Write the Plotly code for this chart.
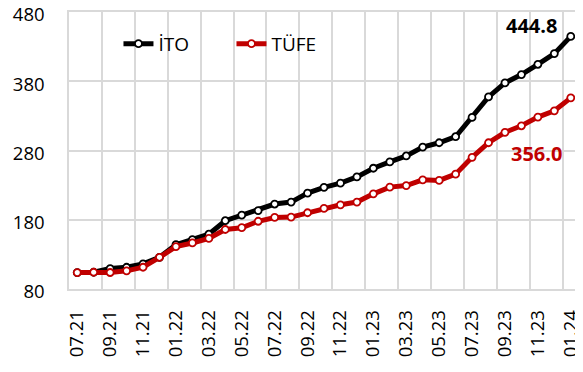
import plotly.graph_objects as go

months = ["07.21", "08.21", "09.21", "10.21", "11.21", "12.21",
          "01.22", "02.22", "03.22", "04.22", "05.22", "06.22",
          "07.22", "08.22", "09.22", "10.22", "11.22", "12.22",
          "01.23", "02.23", "03.23", "04.23", "05.23", "06.23",
          "07.23", "08.23", "09.23", "10.23", "11.23", "12.23",
          "01.24"]

ito = [103.7, 104.2, 109.5, 111.4, 116.3, 125.8,
       144.0, 151.2, 159.1, 178.6, 186.8, 193.2,
       202.7, 205.5, 218.4, 226.8, 232.8, 241.9,
       254.4, 263.5, 272.1, 285.0, 291.2, 299.9,
       327.8, 357.4, 377.6, 389.6, 404.5, 419.9,
       444.8]

tufe = [103.7, 104.2, 103.8, 106.2, 111.4, 125.8,
        141.2, 146.5, 153.1, 165.9, 168.5, 177.8,
        183.3, 183.8, 190.1, 196.3, 201.6, 205.5,
        217.4, 227.1, 229.4, 237.6, 236.8, 245.8,
        270.2, 291.2, 306.2, 315.7, 328.2, 337.3,
        356.0]

y_ticks = [80, 180, 280, 380, 480]

FONT = "Open Sans"
GRID = "#D9D9D9"
xs = list(range(len(months)))
x_range = [-0.5, len(months) - 0.5]
boundaries = [i - 0.5 for i in range(0, len(months) + 1, 2)]

fig = go.Figure()
fig.add_trace(go.Scatter(
    x=xs, y=ito, mode="lines+markers", name="İTO",
    line=dict(color="#000000", width=5),
    marker=dict(size=7, color="white", line=dict(color="#000000", width=1.8)),
))
fig.add_trace(go.Scatter(
    x=xs, y=tufe, mode="lines+markers", name="TÜFE",
    line=dict(color="#C00000", width=5),
    marker=dict(size=7, color="white", line=dict(color="#C00000", width=1.8)),
))

fig.add_annotation(x=27.6, y=460, xref="x", yref="y", text=f"<b>{ito[-1]:.1f}</b>",
                   showarrow=False, xanchor="center", yanchor="middle",
                   font=dict(family=FONT, size=20, color="#000000"))
fig.add_annotation(x=27.9, y=275, xref="x", yref="y", text=f"<b>{tufe[-1]:.1f}</b>",
                   showarrow=False, xanchor="center", yanchor="middle",
                   font=dict(family=FONT, size=20, color="#C00000"))

# the page body adds an 8px offset, so the figure is sized to fit the window
fig.update_layout(
    width=575, height=364,
    margin=dict(l=61, r=4, t=4, b=83, autoexpand=False),
    paper_bgcolor="white", plot_bgcolor="white",
    font=dict(family=FONT, size=18.5, color="#000000"),
    showlegend=True,
    legend=dict(orientation="h", x=0.097, y=0.885, xanchor="left", yanchor="middle",
                bgcolor="rgba(0,0,0,0)", font=dict(family=FONT, size=19),
                itemwidth=30, entrywidth=68, entrywidthmode="pixels"),
    xaxis=dict(
        range=x_range, automargin=False,
        tickmode="array", tickvals=xs[::2], ticktext=months[::2],
        tickangle=-90, showgrid=False, zeroline=False,
        showline=True, mirror=True, linecolor=GRID, linewidth=1.5,
        ticks="", ticklabelstandoff=12, ticklabeloverflow="allow",
    ),
    xaxis2=dict(
        range=x_range, overlaying="x", automargin=False,
        tickmode="array", tickvals=boundaries, showticklabels=False,
        showgrid=True, gridcolor=GRID, gridwidth=1.5, zeroline=False, ticks="",
    ),
    yaxis=dict(
        range=[80, 480], automargin=False,
        tickmode="array", tickvals=y_ticks,
        showgrid=True, gridcolor=GRID, gridwidth=1.5, zeroline=False,
        showline=True, mirror=True, linecolor=GRID, linewidth=1.5,
        ticks="", ticklabelstandoff=19, ticklabelshift=3, ticklabeloverflow="allow",
    ),
)
# invisible helper trace so the boundary grid axis is drawn
fig.add_trace(go.Scatter(x=[x_range[0]], y=[y_ticks[0]], xaxis="x2", mode="markers",
                         marker=dict(opacity=0), showlegend=False, hoverinfo="skip"))

fig.write_html("out.html")
